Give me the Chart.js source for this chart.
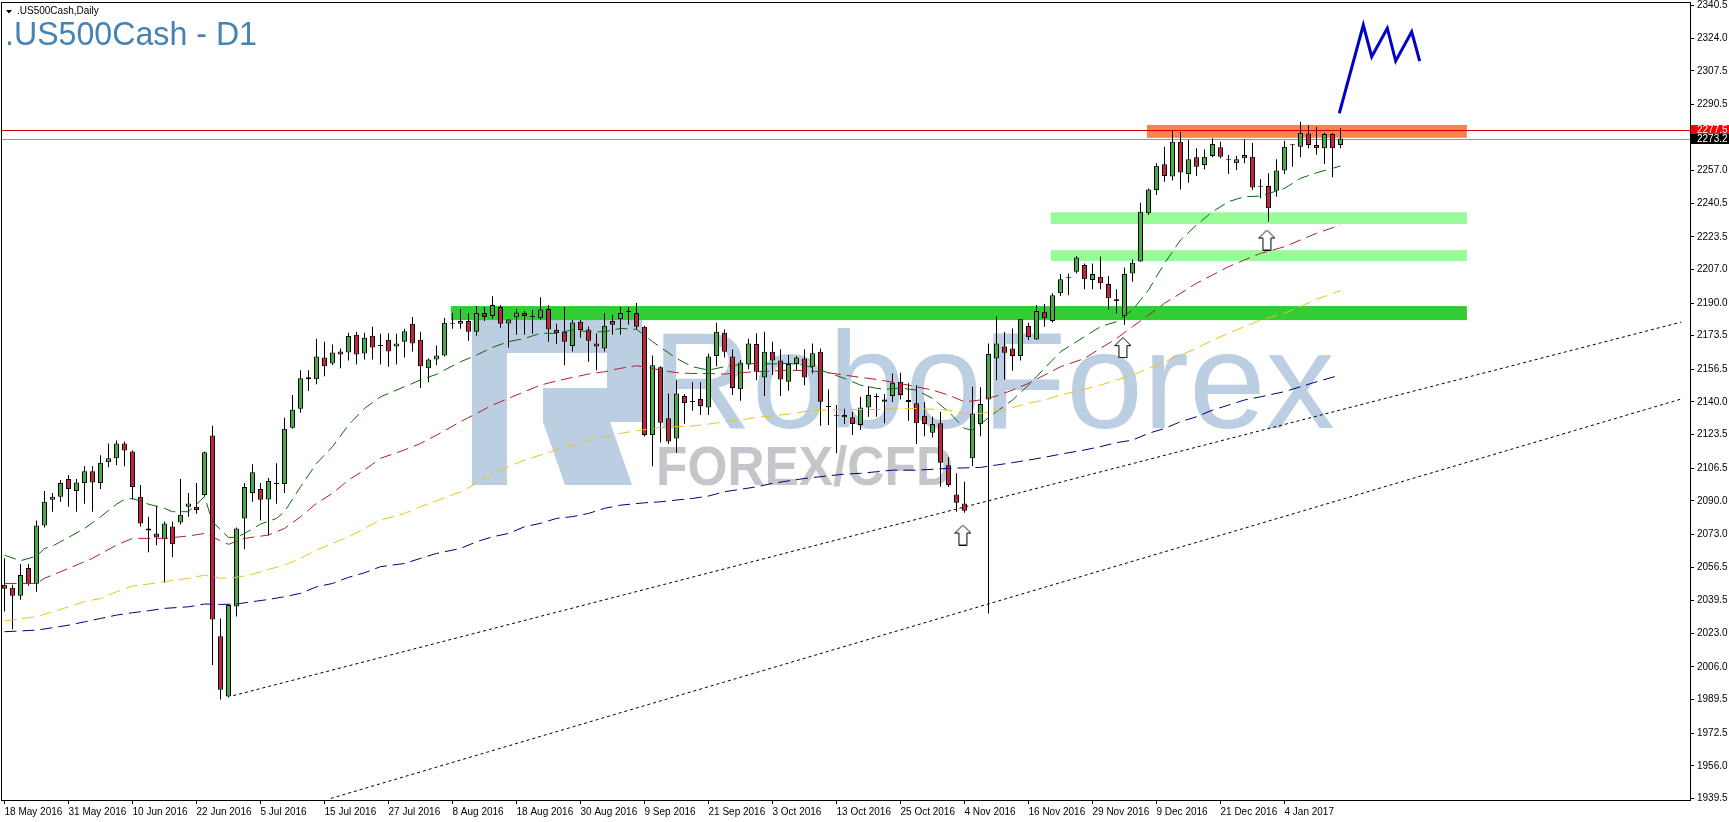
<!DOCTYPE html>
<html><head><meta charset="utf-8">
<script src="https://cdn.jsdelivr.net/npm/chart.js"></script>
<style>html,body{margin:0;padding:0;background:#fff;overflow:hidden}</style>
</head><body>
<canvas id="c" width="1729" height="822"></canvas>
<script>
// ---------------- DATA ----------------
const xTickIdx = [0,8,16,24,32,40,48,56,64,72,80,88,96,104,112,120,128,136,144,152,160];
const xTickLabels = ['18 May 2016','31 May 2016','10 Jun 2016','22 Jun 2016','5 Jul 2016','15 Jul 2016','27 Jul 2016','8 Aug 2016','18 Aug 2016','30 Aug 2016','9 Sep 2016','21 Sep 2016','3 Oct 2016','13 Oct 2016','25 Oct 2016','4 Nov 2016','16 Nov 2016','29 Nov 2016','9 Dec 2016','21 Dec 2016','4 Jan 2017'];
const yTickValues = [2340.5,2324.0,2307.5,2290.5,2257.0,2240.5,2223.5,2207.0,2190.0,2173.5,2156.5,2140.0,2123.5,2106.5,2090.0,2073.0,2056.5,2039.5,2023.0,2006.0,1989.5,1972.5,1956.0,1939.5];

const opens = [2047.5,2046,2042,2056,2048,2077.5,2090.5,2092,2101,2095,
2099,2105,2099,2109.5,2111.5,2119,2115,2092,2076,2073.5,
2070.5,2077,2079,2087,2087,2093,2123,2021.5,1991,2036.5,
2081,2094,2096,2090.7,2099,2098.5,2127,2136.5,2151.5,2151.5,
2162.5,2159.5,2165.5,2165,2174,2164.5,2173.5,2168.5,2171.5,2168,
2170.5,2179.5,2171.5,2157,2161.5,2163.5,2180,2179.5,2181,2175.5,
2185,2183.5,2188,2179.7,2182.8,2185,2183,2182.3,2187,2176.5,
2175.5,2168.3,2180.5,2176.7,2169.6,2167,2181,2181.8,2185.5,2185,
2178,2123.3,2157.5,2131.7,2121.5,2143,2140,2141.5,2137.2,2163.2,
2175,2163,2146.4,2159,2169.3,2152.4,2165.4,2161,2150.2,2159.2,
2162,2157.8,2165.4,2137.5,2133,2132.2,2132.2,2128.3,2137.2,2142.5,
2141.3,2143,2150.2,2141,2139.3,2133,2124.4,2129.2,2108,2093.2,
2088.7,2111.5,2128.8,2141.3,2162,2168,2167,2163.2,2178.4,2171.6,
2185.6,2181,2195,2202.5,2205.9,2209.2,2201.7,2203.3,2199.6,2191,
2183.4,2205,2211,2235.4,2247.2,2260.2,2254,2271.6,2255.3,2263.7,
2259.8,2264.4,2268.8,2262.2,2260.7,2263.2,2264,2248.8,2249.2,2246.8,
2257,2269.8,2269.1,2275.8,2269.9,2268.3,2275.5,2270];
const highs = [2061,2047.5,2058,2058,2080,2095,2094,2100.5,2103,2101,
2107.5,2107.5,2113,2119,2120.5,2120,2115.5,2098,2082,2087.5,
2079.5,2079.5,2101,2094,2099,2115,2128,2030.5,2037.5,2076.5,
2099,2108.5,2099,2101.5,2109,2132,2143.5,2156,2156,2172,
2170.5,2169,2167,2175,2175.5,2175,2178,2174.5,2174.7,2174.5,
2177,2183,2175.5,2162,2168.5,2182.5,2185,2187,2185,2188.5,
2188,2193.5,2189,2182,2187,2186,2186.5,2193,2189,2179.5,
2188,2181.5,2181.5,2178,2174.7,2185,2184,2188,2188,2190,
2178.5,2163.5,2158,2144.3,2151,2144,2150,2150,2164.5,2180,
2176.7,2166.5,2161.2,2172,2174.7,2175.5,2170.5,2166.6,2163.7,2163.2,
2166.6,2169.6,2167,2146.3,2138.4,2136.7,2135,2142.6,2148,2144.3,
2144,2154.4,2154.8,2149.4,2148.5,2140,2132.5,2135,2112,2104,
2099.6,2147.7,2147.4,2169.6,2183.4,2175.5,2177.2,2182,2180,2189,
2189.5,2195,2204.7,2205,2213.8,2210,2210,2213.5,2203.7,2197,
2208,2212,2240.8,2248,2260.7,2269.1,2277.5,2276.7,2272.5,2268.3,
2267.7,2273.3,2271.6,2265,2264.4,2272.8,2271,2252.6,2255.6,2262.7,
2272.1,2270.4,2281.7,2280,2279,2276.2,2276,2278.4];
const lows = [2034,2025,2040,2047,2044,2076.5,2084.5,2089.5,2087,2084.5,
2088.5,2084.5,2096,2107,2108,2107.5,2090.5,2077,2064,2067.5,
2048.5,2061.5,2078,2082,2083.5,2092,2007,1989.5,1990.5,2031.5,
2065.5,2089.5,2080,2072.5,2088.5,2094,2126.5,2134.5,2145.5,2149,
2153,2158.5,2157,2161,2159,2161.5,2161.5,2159,2157.8,2159,
2162.5,2165.5,2147,2150,2158.5,2163,2177,2177,2171,2173.5,
2181,2182,2177.5,2167.5,2174,2174,2174.5,2181.5,2170.5,2169.3,
2158.5,2165.5,2172.5,2160.3,2156,2165.5,2174,2174,2179,2176.5,
2122.5,2107.5,2119.5,2118.7,2114.3,2129,2135.5,2133.4,2133.4,2158,
2162.5,2143.5,2140.6,2156.5,2151,2143,2153.6,2143,2145.7,2156,
2148.5,2154.4,2128,2128.3,2114,2128.8,2123.3,2125.8,2132.5,2132.5,
2129.2,2140,2141.3,2130.5,2118.7,2122.7,2122,2097.1,2097,2084.5,
2084,2107.6,2122.7,2033,2151,2151.4,2155.8,2160.9,2171.3,2171.5,
2178,2180,2193.6,2194,2205,2197,2197,2197,2186.8,2184.8,
2179,2200.8,2210.9,2234.5,2244.6,2251.4,2252,2247.5,2250.9,2254.3,
2257.6,2263.7,2263.2,2255.3,2257.3,2260.7,2247.2,2243,2231.2,2243.8,
2255.3,2259,2263.7,2268.3,2265,2260.3,2253.6,2268.3];
const closes = [2045.5,2042,2052.5,2048,2077.5,2089.5,2092,2099,2096,2099.3,
2105,2099.3,2109.3,2111.5,2119,2115.5,2097,2078.5,2075,2071.5,
2078.5,2068,2083,2088.7,2085.3,2114.5,2030,1994.5,2037.3,2076,
2097,2104.5,2090.5,2100,2098.5,2126.5,2136,2152,2152.5,2163,
2158,2165,2164,2173.3,2164,2172.5,2167.5,2168.3,2165.5,2169.5,
2175.7,2169.5,2158,2161.5,2163.5,2180,2179.5,2181,2175.5,2185,
2183,2189,2179.5,2181.7,2185.3,2183.5,2183.2,2186.8,2176.7,2174.7,
2170.5,2180.2,2176.4,2171,2168,2178.5,2179,2185,2185.7,2178,
2123.3,2158.5,2129.5,2120,2144.3,2139.5,2140.2,2138,2163,2175.5,
2165.4,2147,2160,2169.6,2155.3,2165.4,2161,2151.4,2159.2,2162.5,
2152.4,2164.6,2140.1,2137.7,2132.8,2133.4,2128.8,2137.2,2143.5,2142.7,
2140.1,2149.7,2143.5,2140,2129.2,2128.8,2128.8,2109.3,2098,2089,
2085,2134.2,2139,2164.2,2169.6,2164.9,2163.2,2181.8,2172.7,2186,
2182.3,2194,2202,2202.8,2213.1,2202,2204.7,2200,2192.4,2192,
2204.7,2210.4,2236.2,2247.5,2259.5,2254.3,2271.6,2256,2262.7,2259,
2264,2270.4,2264,2262.4,2262.7,2264.9,2248.5,2249,2237.9,2257,
2269.1,2270,2276.2,2269.9,2268.3,2275.5,2268.3,2273.2];

// moving averages (bar index -> value)
const maFastIdx = [0,2,4,5,6,8,10,12,14,15,16,18,20,21,23,25,26,28,29,30,32,34,35,37,39,41,43,45,47,50,52,54,57,59,61,63,65,67,69,71,73,75,77,79,80,81,84,86,88,90,92,94,96,98,100,102,105,107,109,110,112,114,116,118,120,121,122,124,126,128,130,132,135,137,139,141,143,145,147,149,151,153,155,157,160,162,164,167];
const maFast = [2062.5,2059.7,2062,2065.9,2067.1,2071.5,2076,2081.9,2088.3,2090.7,2091.2,2088.3,2086.2,2084.5,2084.5,2092.1,2079.4,2071.5,2071.5,2073.5,2078.2,2081.1,2084.5,2097.1,2108.9,2117.4,2128.3,2136.7,2142.6,2147.7,2151.1,2154,2160.3,2163.7,2167.6,2170.5,2172.1,2174.7,2174.7,2176.4,2175.5,2175.5,2177.2,2176.7,2173.8,2170.5,2162,2157.8,2156.1,2157.8,2159,2159.5,2159.2,2159.5,2158.6,2156.1,2151.9,2148.5,2146.9,2146.4,2147,2146,2141.8,2135.1,2126.6,2125.8,2128.8,2135.1,2141,2148.5,2157,2165.4,2173,2178.1,2180.6,2186.5,2196.6,2210.1,2221.9,2229.5,2236.2,2241.3,2243.8,2244.1,2248,2253.1,2255.9,2259.3];
const maMidIdx = [0,4,5,8,11,14,16,18,20,23,25,27,28,30,33,35,37,39,41,43,45,47,50,52,54,57,59,61,63,65,67,69,71,73,75,77,79,80,82,84,86,88,90,92,94,96,98,100,102,105,107,109,110,113,116,118,120,122,124,126,128,130,132,135,137,139,141,143,145,147,149,151,153,155,157,160,162,164,167];
const maMid = [2048.2,2048.2,2050.8,2055.8,2060.9,2067.6,2071,2071,2071,2072.2,2073.5,2069.8,2068,2071,2072.7,2076,2081.9,2088.7,2093.8,2100.5,2105.6,2111.5,2115.7,2119,2123.2,2130,2134.2,2138.4,2141.8,2145.2,2148.5,2150.6,2152.4,2154.1,2155.3,2157,2158.3,2157.8,2156.1,2154.8,2154.4,2154.4,2154.1,2154.8,2155.3,2155.6,2156.1,2155.8,2155.3,2153.6,2152.4,2151.4,2150.7,2148.5,2146,2143.5,2140.1,2141,2143,2146,2149.4,2153.6,2157.8,2162,2167.1,2172.1,2178.1,2183.9,2189.9,2194.9,2200,2204.2,2208.4,2211.8,2215.1,2218.5,2221.9,2225.3,2229.5];
const maSlowIdx = [0,4,6,8,10,12,14,16,18,20,23,25,27,29,31,33,35,37,39,41,43,45,47,50,52,54,57,59,61,63,65,67,69,71,73,75,77,79,82,84,86,88,90,92,94,96,98,100,102,105,107,109,111,114,118,120,122,124,126,128,130,132,135,137,139,141,143,145,147,149,151,153,155,157,160,162,164,167];
const maSlow = [2029.3,2031.4,2033.9,2036.4,2039,2040.6,2044,2046.9,2047.9,2049.1,2050.8,2052.4,2050.8,2051.3,2052.9,2055.3,2057.5,2060.9,2065.1,2068.5,2071.8,2076,2080.3,2083.6,2087,2090,2094.5,2098.8,2103.9,2107.2,2110.6,2113.1,2115.7,2118.2,2120.7,2122.4,2124.1,2125.4,2127.1,2127.5,2127.8,2128.8,2130,2130.8,2132.2,2132.9,2133.9,2135.1,2135.9,2136.2,2136.2,2136.2,2136.5,2136.7,2135.9,2134.2,2134.2,2135.6,2137.2,2139.3,2141,2143.5,2146.4,2148.5,2151.1,2153.6,2157,2160.3,2163.7,2167.1,2171.3,2174.7,2178.1,2181.4,2184.8,2188.2,2191.9,2196.3];
const maLongIdx = [0,4,6,8,10,12,14,16,18,20,23,25,27,29,31,33,35,37,39,41,43,45,47,50,52,54,57,59,61,63,65,67,69,71,73,75,77,80,82,84,86,88,90,92,94,96,98,100,102,105,107,109,111,114,118,122,124,126,128,130,132,135,137,139,141,143,145,147,149,151,153,155,157,160,162,164,167];
const maLong = [2023.8,2024.6,2025.8,2027.1,2028.8,2030.5,2032.2,2033.4,2034.4,2035.6,2036.4,2037.8,2037.6,2037.8,2039,2040.1,2041.5,2043.2,2046.5,2048.2,2051.3,2053.6,2056.7,2058.3,2060.9,2063.4,2065.9,2069.3,2071.8,2073.5,2076.9,2078.6,2081.1,2082,2083.6,2086.2,2087.8,2089,2089.5,2090.4,2091.2,2092.4,2094.6,2095.8,2097.1,2098.8,2100.1,2101.3,2102.2,2103.5,2103.9,2104.7,2105.5,2105.5,2106.4,2106.9,2108.1,2109.3,2110.6,2112,2113.6,2115.7,2117.4,2119.4,2120.7,2124.1,2126.6,2130,2132.5,2135.9,2138.4,2141,2142.6,2145.2,2147.7,2150.2,2153.6];

// drawn objects (bar index / price)
const zoneFrom = [55.8, 130.8, 130.8, 142.8];
const zoneTo   = [182.8, 182.8, 182.8, 182.8];
const zoneLow  = [2181.4, 2230.0, 2211.3, 2273.6];
const zoneHigh = [2188.5, 2235.9, 2216.8, 2280.1];
const hLinePrices = [2277.5, 2273.2];
const trendFromX = [28.6, 40.8];
const trendFromY = [1991.5, 1939.5];
const trendToX = [209.6, 209.6];
const trendToY = [2180.4, 2141.5];
const zigX = [166.85, 169.85, 170.9, 172.85, 173.9, 175.9, 176.9];
const zigY = [2286.0, 2330.6, 2314.6, 2329.0, 2312.4, 2327.2, 2312.4];
const arrowX = [119.8, 139.8, 157.8];
const arrowY = [2072.7, 2167.5, 2221.9];

// ---------------- STYLE ----------------
const BULL = '#3DB33D', BEAR = '#C8203F';
const zoneColors = ['#32CD32', '#98FB98', '#98FB98', '#FF7F50'];
const hLineColors = ['#D00000', '#8E96A0'];
const hBoxColors = ['#FF0000', '#000000'];
const FONT = '"Liberation Sans", Arial, sans-serif';
const XMIN = -0.3125, XMAX = 210.6875;
const YMAX = 2341.764, YMIN = 1938.691;

const idx = closes.map((_, i) => i);
const toXY = (xs, ys) => xs.map((x, k) => ({x, y: ys[k]}));

function makeArrow() {
  const c = document.createElement('canvas');
  c.width = 17; c.height = 21;
  const g = c.getContext('2d');
  g.beginPath();
  g.moveTo(8.5, 0.5); g.lineTo(16.5, 8.5); g.lineTo(12.5, 8.5); g.lineTo(12.5, 20.5);
  g.lineTo(4.5, 20.5); g.lineTo(4.5, 8.5); g.lineTo(0.5, 8.5); g.closePath();
  g.fillStyle = '#fff'; g.fill();
  g.strokeStyle = '#000'; g.lineWidth = 1; g.stroke();
  return c;
}

const bgPlugin = {
  id: 'bg',
  beforeDatasetsDraw(chart) {
    const {ctx, chartArea: a, scales: {x, y}} = chart;
    ctx.save();
    ctx.beginPath(); ctx.rect(a.left, a.top, a.right - a.left, a.bottom - a.top); ctx.clip();
    // watermark
    ctx.fillStyle = 'rgb(188,206,226)';
    ctx.fillRect(472, 318, 35, 167);
    ctx.fillRect(472, 318, 170, 35);
    ctx.fillRect(607, 353, 35, 69);
    ctx.fillRect(543, 388, 99, 34);
    ctx.beginPath(); ctx.moveTo(543, 422); ctx.lineTo(610, 422); ctx.lineTo(632, 485); ctx.lineTo(565, 485); ctx.closePath(); ctx.fill();
    ctx.textBaseline = 'alphabetic'; ctx.textAlign = 'left';
    ctx.font = '138px ' + FONT;
    ctx.fillText('RoboForex', 652, 428);
    ctx.fillStyle = 'rgb(197,198,202)';
    ctx.font = 'bold 56px ' + FONT;
    ctx.fillText('FOREX/CFD', 656, 485, 297);
    // zones
    for (let k = 0; k < zoneFrom.length; k++) {
      const x0 = x.getPixelForValue(zoneFrom[k]), x1 = x.getPixelForValue(zoneTo[k]);
      const y0 = y.getPixelForValue(zoneHigh[k]), y1 = y.getPixelForValue(zoneLow[k]);
      ctx.fillStyle = zoneColors[k];
      ctx.fillRect(x0, y0, x1 - x0, y1 - y0);
    }
    // horizontal lines
    for (let k = 0; k < hLinePrices.length; k++) {
      const yy = Math.round(y.getPixelForValue(hLinePrices[k])) + 0.5;
      ctx.strokeStyle = hLineColors[k]; ctx.lineWidth = 1;
      ctx.beginPath(); ctx.moveTo(a.left, yy); ctx.lineTo(a.right, yy); ctx.stroke();
    }
    ctx.restore();
  },
  afterDraw(chart) {
    const {ctx, chartArea: a, scales: {y}} = chart;
    ctx.save();
    ctx.strokeStyle = '#000'; ctx.lineWidth = 1;
    ctx.strokeRect(1.5, 2.5, a.right - 1, a.bottom - 2);
    // price boxes on axis
    ctx.font = '10px ' + FONT; ctx.textBaseline = 'middle'; ctx.textAlign = 'left';
    for (let k = 0; k < hLinePrices.length; k++) {
      const yy = y.getPixelForValue(hLinePrices[k]);
      ctx.fillStyle = hBoxColors[k];
      ctx.fillRect(a.right + 1, Math.round(yy) - 5, 38, 10);
      ctx.fillStyle = '#fff';
      ctx.fillText(hLinePrices[k].toFixed(1), a.right + 7, yy + 0.5);
    }
    // header
    ctx.fillStyle = '#000';
    ctx.beginPath(); ctx.moveTo(6, 10); ctx.lineTo(12, 10); ctx.lineTo(9, 13.5); ctx.closePath(); ctx.fill();
    ctx.textBaseline = 'alphabetic';
    ctx.font = '10px ' + FONT;
    ctx.fillText('.US500Cash,Daily', 17, 14);
    ctx.fillStyle = '#4682B4';
    ctx.font = '33px ' + FONT;
    ctx.fillText('.US500Cash - D1', 5, 45, 252);
    ctx.restore();
  }
};

const maStyle = (color) => ({type: 'line', borderColor: color, borderWidth: 1, borderDash: [12, 6], pointRadius: 0, tension: 0, fill: false, order: 3});

new Chart(document.getElementById('c'), {
  type: 'bar',
  data: {
    datasets: [
      {type: 'line', data: [{x: trendFromX[0], y: trendFromY[0]}, {x: trendToX[0], y: trendToY[0]}], borderColor: '#000', borderWidth: 1, borderDash: [3, 3], pointRadius: 0, order: 6},
      {type: 'line', data: [{x: trendFromX[1], y: trendFromY[1]}, {x: trendToX[1], y: trendToY[1]}], borderColor: '#000', borderWidth: 1, borderDash: [3, 3], pointRadius: 0, order: 6},
      {type: 'bar', data: idx.map(i => ({x: i, y: [lows[i], highs[i]]})), backgroundColor: '#000', borderWidth: 0, barThickness: 1, grouped: false, inflateAmount: 0, order: 5},
      {type: 'bar', data: idx.map(i => ({x: i, y: [opens[i], closes[i]]})), backgroundColor: idx.map(i => closes[i] >= opens[i] ? BULL : BEAR), borderColor: '#000', borderWidth: 1, borderSkipped: false, barThickness: 5, grouped: false, inflateAmount: 0, minBarLength: 1, order: 4},
      Object.assign({data: toXY(maLongIdx, maLong)}, maStyle('#00007A')),
      Object.assign({data: toXY(maSlowIdx, maSlow)}, maStyle('#E8C51A')),
      Object.assign({data: toXY(maMidIdx, maMid)}, maStyle('#B0202A')),
      Object.assign({data: toXY(maFastIdx, maFast)}, maStyle('#0A6A0A')),
      {type: 'line', data: toXY(zigX, zigY), borderColor: '#0000C8', borderWidth: 3, pointRadius: 0, tension: 0, borderJoinStyle: 'miter', order: 2},
      {type: 'scatter', data: toXY(arrowX, arrowY), pointStyle: makeArrow(), pointRadius: 1, order: 1}
    ]
  },
  options: {
    responsive: false, animation: false, devicePixelRatio: 1, events: [],
    layout: {autoPadding: false, padding: {left: 2, top: 3, right: 0, bottom: 0}},
    plugins: {legend: {display: false}, tooltip: {enabled: false}},
    scales: {
      x: {
        type: 'linear', position: 'bottom', min: XMIN, max: XMAX, offset: false,
        afterBuildTicks: s => { s.ticks = xTickIdx.map(v => ({value: v})); },
        afterFit: s => { s.height = 22; s.paddingLeft = 0; s.paddingRight = 0; },
        ticks: {autoSkip: false, maxRotation: 0, minRotation: 0, align: 'start', padding: 2, color: '#000', font: {family: FONT, size: 10},
          callback: v => { const k = xTickIdx.indexOf(v); return k >= 0 ? xTickLabels[k] : ''; }},
        grid: {drawOnChartArea: false, drawTicks: true, tickLength: 4, color: '#000', lineWidth: 1, offset: false},
        border: {display: false}
      },
      y: {
        type: 'linear', position: 'right', min: YMIN, max: YMAX,
        afterBuildTicks: s => { s.ticks = yTickValues.map(v => ({value: v})); },
        afterFit: s => { s.width = 39; s.paddingTop = 0; s.paddingBottom = 0; },
        ticks: {autoSkip: false, padding: 3, color: '#000', font: {family: FONT, size: 10}, callback: v => Number(v).toFixed(1)},
        grid: {drawOnChartArea: false, drawTicks: true, tickLength: 4, color: '#000', lineWidth: 1},
        border: {display: false}
      }
    }
  },
  plugins: [bgPlugin]
});
</script>
</body></html>
